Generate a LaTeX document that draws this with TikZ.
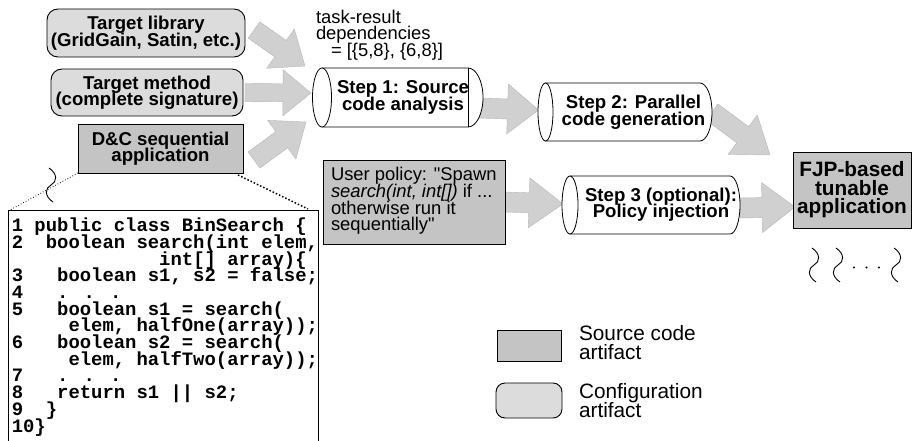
\documentclass[tikz,border=0pt]{standalone}
\usepackage{fontspec}
\setmainfont{Liberation Sans}
\newfontfamily\codefam{Liberation Mono}
\usetikzlibrary{calc}
\definecolor{cfgfill}{RGB}{220,220,220}
\definecolor{srcfill}{RGB}{196,196,196}
\definecolor{arrfill}{RGB}{208,208,208}
\pgfdeclarelayer{bg}
\pgfsetlayers{bg,main}
\newcommand\tightlines{\lineskiplimit=-100pt\lineskip=0pt}
\newcommand\bfbig{\fontsize{18.6}{16.5}\selectfont\bfseries\tightlines}
\newcommand\bfhuge{\fontsize{20.8}{18.6}\selectfont\bfseries\tightlines}
\newcommand\rmtext{\fontsize{18.4}{16.6}\selectfont\tightlines}
\newcommand\legtext{\fontsize{20.8}{19}\selectfont\tightlines}
\newcommand\codetext{\codefam\bfseries\fontsize{18.9}{16.7}\selectfont\tightlines}
\newcommand\fatarrow[5]{%
  \coordinate (fa-hb) at ($(#2)!#5!(#1)$);
  \filldraw[arrowshape] ($(#1)!#3!90:(#2)$) -- ($(fa-hb)!#3!90:(#2)$) -- ($(fa-hb)!#4!90:(#2)$) -- (#2)
    -- ($(fa-hb)!#4!-90:(#2)$) -- ($(fa-hb)!#3!-90:(#2)$) -- ($(#1)!#3!-90:(#2)$) -- cycle;}
\newcommand\cylout[4]{%
  \draw[cylline, fill=white] (#1.north west) -- (#1.north east)
    arc[start angle=90, end angle=-90, x radius=#3, y radius=#4] -- (#1.south west) -- cycle;
  \draw[cylline, fill=white] (#1.west) ellipse[x radius=#2, y radius=#4];}
\newcommand\squig[2]{%
  \draw[squigline, shift={(#1,#2)}] (-2,-17) .. controls (7,-11) and (6,-3) .. (0,0)
    .. controls (-6,3) and (-7,11) .. (2,17);}
\begin{document}
\begin{tikzpicture}[x=1pt, y=-1pt,
  every node/.style={inner sep=0pt, outer sep=0pt},
  cfgbox/.style={draw, line width=0.9pt, fill=cfgfill, rounded corners=11pt, align=center, font=\bfbig},
  srcbox/.style={draw, line width=0.9pt, fill=srcfill, align=center},
  cylline/.style={line width=0.8pt},
  arrowshape/.style={fill=arrfill, draw=arrfill!88!black, line width=0.4pt},
  steptext/.style={align=center, font=\bfbig},
  squigline/.style={line width=0.9pt},
  dotline/.style={dotted, line width=#1},
]
\useasboundingbox (0,0) rectangle (912,441);

% configuration and source boxes
\node[cfgbox, minimum width=198pt, minimum height=48pt] (lib) at (146,33)
  {Target library\\(GridGain, Satin, etc.)};
\node[cfgbox, minimum width=192pt, minimum height=47pt] (meth) at (147,92.5)
  {Target method\\(complete signature)};
\node[srcbox, font=\bfbig, minimum width=165pt, minimum height=49pt] (dc) at (160.5,148.5)
  {D\&C sequential\\application};

% task-result text
\node[anchor=north west, align=left, font=\rmtext] (deps) at (316,9.8)
  {task-result\\dependencies\\\hspace*{15pt}= [\{5,8\}, \{6,8\}]};

% cylinders
\node[minimum width=146pt, minimum height=59pt] (s1) at (395,97.5) {};
\cylout{s1}{9.5pt}{15pt}{29.5pt}
\draw[cylline] (s1.north east) -- (s1.south east);
\node[steptext] (s1t) at (403,97.5) {Step 1: Source\\code analysis};

\node[minimum width=154.5pt, minimum height=58pt] (s2) at (622.75,112) {};
\cylout{s2}{7.5pt}{12pt}{29pt}
\node[steptext] (s2t) at (633.5,112) {Step 2: Parallel\\code generation};

\node[minimum width=160pt, minimum height=58pt] (s3) at (650,205) {};
\cylout{s3}{8pt}{10pt}{29pt}
\node[steptext] (s3t) at (661,204.5) {Step 3 (optional):\\Policy injection};

% user policy
\node[srcbox, minimum width=182pt, minimum height=84pt] (pol) at (414,202) {};
\node[anchor=north west, align=left, font=\rmtext] (polt) at (331,167.5)
  {User policy: \textquotedbl Spawn\\\textit{search(int, int[])} if ...\\otherwise run it\\sequentially\textquotedbl};

% result
\node[srcbox, font=\bfhuge, minimum width=118pt, minimum height=76pt] (fjp) at (852,190)
  {FJP-based\\tunable\\application};

% code listing
\node[draw, line width=0.9pt, fill=white, minimum width=310pt, minimum height=250pt] (code) at (163,335) {};
\node[anchor=north west, align=left, font=\codetext] (codet) at (11.8,218)
  {1 public class BinSearch \{\\
   2~~boolean search(int elem,\\
   ~~~~~~~~~~~~~int[] array)\{\\
   3~~~boolean s1, s2 = false;\\
   4~~~. . .\\
   5~~~boolean s1 = search(\\
   ~~~~~elem, halfOne(array));\\
   6~~~boolean s2 = search(\\
   ~~~~~elem, halfTwo(array));\\
   7~~~. . .\\
   8~~~return s1 || s2;\\
   9~~\}\\
   10\}};

% zoom lines
\coordinate (zl) at ($(code.north west)+(2,0)$);
\coordinate (zr) at ($(code.north east)+(-10,-1)$);
\draw[dotline=0.8pt] (dc.south west) -- (zl);
\draw[dotline=1.5pt] ($(dc.south east)+(-5,2)$) -- (zr);
\squig{51}{185}

% squiggles and dots
\squig{814}{265}
\squig{838}{265}
\squig{896}{265}
\fill (854,267.5) circle[radius=1.2pt] (866.5,267.5) circle[radius=1.2pt] (879,267.5) circle[radius=1.2pt];

% legend
\node[srcbox, minimum width=64pt, minimum height=31pt] (legsrc) at (529,345.5) {};
\node[draw, line width=0.9pt, fill=cfgfill, rounded corners=9pt, minimum width=66pt, minimum height=35pt] (legcfg) at (529,400.5) {};
\node[anchor=north west, align=left, font=\legtext] (legsrct) at (579,325) {Source code\\artifact};
\node[anchor=north west, align=left, font=\legtext] (legcfgt) at (579,383) {Configuration\\artifact};

% block arrows
\coordinate (a1t) at ($(lib.east)+(9,-3)$);
\coordinate (a1h) at ($(s1.west)+(-17,-31.5)$);
\coordinate (a2t) at ($(meth.east)+(2,0)$);
\coordinate (a2h) at ($(s1.west)+(-11,-4.5)$);
\coordinate (a3t) at ($(dc.east)+(11,11.5)$);
\coordinate (a3h) at ($(s1.west)+(-16,24.5)$);
\coordinate (a4t) at ($(s1.east)+(10,10.5)$);
\coordinate (a4h) at ($(s2.west)+(-7,-2)$);
\coordinate (a5t) at ($(s2.east)+(12,0)$);
\coordinate (a5h) at ($(fjp.north west)+(-23,3)$);
\coordinate (a6t) at ($(pol.east)+(0,0)$);
\coordinate (a6h) at ($(s3.west)+(-7,-1)$);
\coordinate (a7t) at ($(s3.east)+(10,3)$);
\coordinate (a7h) at ($(fjp.west)+(2,17)$);
\begin{pgfonlayer}{bg}
\fatarrow{a1t}{a1h}{10pt}{24pt}{30pt}
\fatarrow{a2t}{a2h}{9pt}{23pt}{28pt}
\fatarrow{a3t}{a3h}{10pt}{24pt}{30pt}
\fatarrow{a4t}{a4h}{10pt}{25pt}{31pt}
\fatarrow{a5t}{a5h}{10pt}{24.5pt}{34pt}
\fatarrow{a6t}{a6h}{10pt}{25pt}{34pt}
\fatarrow{a7t}{a7h}{10pt}{25pt}{33pt}
\end{pgfonlayer}
\end{tikzpicture}
\end{document}
